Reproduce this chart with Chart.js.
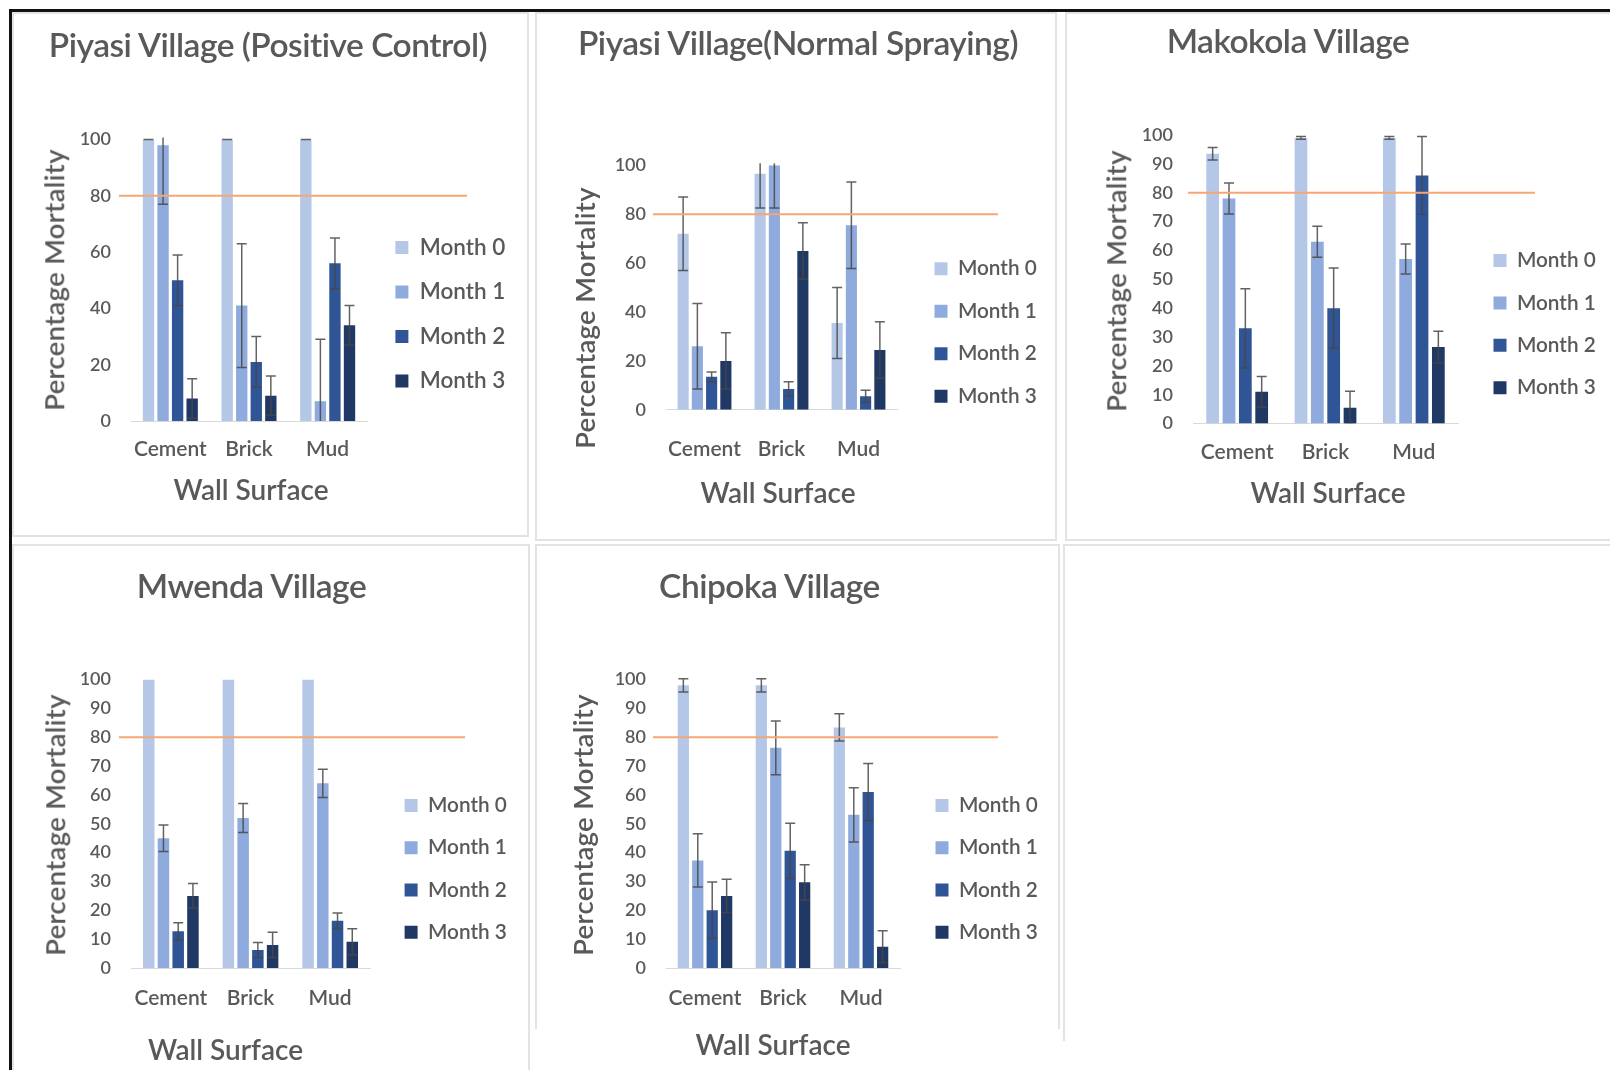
<!DOCTYPE html>
<html>
<head>
<meta charset="utf-8">
<title>Percentage mortality by wall surface</title>
<script src="https://cdn.jsdelivr.net/npm/chart.js@4.4.1/dist/chart.umd.min.js"></script>
<style>
  html, body { margin: 0; padding: 0; background: #fff; }
  body { width: 1610px; height: 1070px; position: relative; overflow: hidden;
         font-family: Lato, 'Open Sans', sans-serif; color: #595959; }
  .frame-top  { position: absolute; left: 9px; top: 9px; width: 1601px; height: 3px; background: #111; z-index: 5; }
  .frame-left { position: absolute; left: 9px; top: 9px; width: 3px; height: 1061px; background: #111; z-index: 5; }
  .panel { position: absolute; box-sizing: border-box; border: 2px solid #e3e3e3; }
  .panel.open-bottom { border-bottom: none; }
  canvas.chart { position: absolute; z-index: 2; }
  .lbl { position: absolute; white-space: nowrap; line-height: 1; z-index: 3; font-weight: 600;
         transform: translate(-50%, -50%); }
  .lbl.title { font-size: 33.5px; letter-spacing: -0.5px; }
  .lbl.xtitle { font-size: 28px; }
  .lbl.ytitle { font-size: 27.5px; letter-spacing: 0.3px; transform: translate(-50%, -50%) rotate(-90deg); }
</style>
</head>
<body>
<div class="frame-top"></div>
<div class="frame-left"></div>

<script>
// ---- data -------------------------------------------------------------
const wallSurfaces = ['Cement', 'Brick', 'Mud'];
const months = ['Month 0', 'Month 1', 'Month 2', 'Month 3'];
const monthColours = ['#b4c7e7', '#8faadc', '#2f5597', '#203864'];
const targetMortality = 80;
const xAxisTitle = 'Wall Surface';
const yAxisTitle = 'Percentage Mortality';

// mean % mortality: one row per month, one column per wall surface
const piyasiControlMortality = [[100, 100, 100], [98, 41, 7], [50, 21, 56], [8, 9, 34]];
const piyasiControlError     = [[0, 0, 0], [21, 22, 22], [9, 9, 9], [7, 7, 7]];

const piyasiSprayMortality = [[72, 96.5, 35.5], [26, 100, 75.5], [13.5, 8.5, 5.5], [20, 65, 24.5]];
const piyasiSprayError     = [[15, 14, 14.5], [17.5, 17.5, 17.7], [2, 3, 2.5], [11.5, 11.5, 11.5]];

const makokolaMortality = [[93.5, 99, 99], [78, 63, 57], [33, 40, 86], [11, 5.5, 26.5]];
const makokolaError     = [[2.2, 0.5, 0.5], [5.4, 5.4, 5.2], [13.7, 13.9, 13.5], [5.3, 5.7, 5.5]];

const mwendaMortality = [[100, 100, 100], [45, 52, 64], [12.7, 6.2, 16.4], [25, 8, 9.1]];
const mwendaError     = [[null, null, null], [4.6, 5, 4.9], [3, 2.6, 2.7], [4.3, 4.4, 4.5]];

const chipokaMortality = [[98, 98, 83.4], [37.3, 76.3, 53.1], [20, 40.6, 61], [25, 29.7, 7.4]];
const chipokaError     = [[2.3, 2.3, 4.7], [9.2, 9.3, 9.4], [9.8, 9.6, 9.9], [5.8, 6.1, 5.5]];

const yTickStepTwenty = 20;
const yTickStepTen = 10;

// ---- plugins ----------------------------------------------------------
// whiskers above/below every bar, clipped to the plot area
const errorBars = {
  id: 'errorBars',
  afterDatasetsDraw(chart, args, opts) {
    const { ctx, chartArea: a, scales: { y } } = chart;
    ctx.save();
    ctx.beginPath();
    ctx.rect(a.left - 20, a.top - 2, a.width + 40, a.height + 2);
    ctx.clip();
    ctx.strokeStyle = opts.color;
    ctx.lineWidth = opts.width;
    chart.data.datasets.forEach((ds, i) => {
      chart.getDatasetMeta(i).data.forEach((bar, j) => {
        const e = ds.errors[j];
        if (e == null) return;
        const v = ds.data[j];
        const top = y.getPixelForValue(v + e);
        const bot = y.getPixelForValue(v - e);
        const h = opts.cap / 2;
        ctx.beginPath();
        ctx.moveTo(bar.x, top); ctx.lineTo(bar.x, bot);
        ctx.moveTo(bar.x - h, top); ctx.lineTo(bar.x + h, top);
        ctx.moveTo(bar.x - h, bot); ctx.lineTo(bar.x + h, bot);
        ctx.stroke();
      });
    });
    ctx.restore();
  }
};

// horizontal target line across the plot
const targetLine = {
  id: 'targetLine',
  afterDatasetsDraw(chart, args, opts) {
    const { ctx, chartArea: a, scales: { y } } = chart;
    const py = y.getPixelForValue(opts.value);
    ctx.save();
    ctx.strokeStyle = opts.color;
    ctx.lineWidth = opts.width;
    ctx.beginPath();
    ctx.moveTo(a.left + opts.from, py);
    ctx.lineTo(a.right + opts.to, py);
    ctx.stroke();
    ctx.restore();
  }
};

// puts the legend column at a fixed spot beside the plot
const legendPlacement = {
  id: 'legendPlacement',
  afterLayout(chart, args, opts) {
    const lg = chart.legend;
    if (!lg || opts.left == null) return;
    lg.left = opts.left; lg.right = opts.left + 200;
    lg.top = opts.top; lg.bottom = opts.top + 260;
    lg.width = 200; lg.height = 260;
  }
};

// ---- panels -----------------------------------------------------------
const TEXT = '#595959';
const FONT = 'Lato, "Open Sans", sans-serif';
const TICK_SIZE = 18;
const CATEGORY_SIZE = 21;

const panels = [
  { title: 'Piyasi Village (Positive Control)', values: piyasiControlMortality, errors: piyasiControlError, step: yTickStepTwenty,
    frame: { x: 12, y: 12, w: 517, h: 525 }, canvas: { x: 12, y: 12, w: 517, h: 529 },
    area: { l: 131, r: 367, t: 139.5, b: 421 }, xPad: 15.5,
    legend: { x: 395.4, y: 247.5, gap: 44.5, size: 22.5 }, line: { from: -12, to: 100 },
    titlePos: [268, 45], yTitlePos: [54, 280], xTitlePos: [251, 489] },
  { title: 'Piyasi Village(Normal Spraying)', values: piyasiSprayMortality, errors: piyasiSprayError, step: yTickStepTwenty,
    frame: { x: 535, y: 12, w: 522, h: 529 }, canvas: { x: 535, y: 12, w: 522, h: 529 },
    area: { l: 666, r: 897, t: 165.3, b: 409.8 }, xPad: 26.5,
    legend: { x: 934.5, y: 268.8, gap: 42.5, size: 20.75 }, line: { from: -13, to: 101 },
    titlePos: [798, 43], yTitlePos: [585, 318], xTitlePos: [778, 492] },
  { title: 'Makokola Village', values: makokolaMortality, errors: makokolaError, step: yTickStepTen,
    frame: { x: 1065, y: 12, w: 560, h: 529 }, canvas: { x: 1065, y: 12, w: 545, h: 529 },
    area: { l: 1193, r: 1458, t: 135, b: 423.6 }, xPad: 16.5,
    legend: { x: 1493.5, y: 260.5, gap: 42.4, size: 20.75 }, line: { from: -5, to: 77 },
    titlePos: [1288, 41.3], yTitlePos: [1116, 280.6], xTitlePos: [1328, 492.4] },
  { title: 'Mwenda Village', values: mwendaMortality, errors: mwendaError, step: yTickStepTen,
    frame: { x: 12, y: 544, w: 518, h: 540 }, canvas: { x: 12, y: 544, w: 518, h: 526 },
    area: { l: 131, r: 370, t: 679.5, b: 968 }, xPad: 17.5,
    legend: { x: 404.6, y: 805.4, gap: 42.3, size: 20.75 }, line: { from: -12, to: 95 },
    titlePos: [251.5, 585.5], yTitlePos: [55, 824.5], xTitlePos: [225.5, 1049] },
  { title: 'Chipoka Village', values: chipokaMortality, errors: chipokaError, step: yTickStepTen,
    frame: { x: 535, y: 544, w: 525, h: 485, open: true }, canvas: { x: 535, y: 544, w: 525, h: 526 },
    area: { l: 666, r: 900, t: 679.5, b: 968 }, xPad: 17.5,
    legend: { x: 935.5, y: 805.4, gap: 42.3, size: 20.75 }, line: { from: -13, to: 98 },
    titlePos: [769.5, 585.5], yTitlePos: [583, 824.5], xTitlePos: [773, 1043.5] }
];

function addLabel(text, cls, pos) {
  const el = document.createElement('div');
  el.className = 'lbl ' + cls;
  el.textContent = text;
  el.style.left = pos[0] + 'px';
  el.style.top = pos[1] + 'px';
  document.body.appendChild(el);
}

function addFrame(f) {
  const el = document.createElement('div');
  el.className = 'panel' + (f.open ? ' open-bottom' : '');
  el.style.left = f.x + 'px'; el.style.top = f.y + 'px';
  el.style.width = f.w + 'px'; el.style.height = f.h + 'px';
  document.body.appendChild(el);
}

// empty sixth cell of the grid
addFrame({ x: 1063, y: 544, w: 560, h: 497, open: true });

panels.forEach(p => {
  addFrame(p.frame);
  const c = p.canvas, a = p.area;
  const cv = document.createElement('canvas');
  cv.className = 'chart';
  cv.width = c.w; cv.height = c.h;
  cv.style.left = c.x + 'px'; cv.style.top = c.y + 'px';
  document.body.appendChild(cv);

  const legendSize = p.legend.size;
  const legendPad = p.legend.gap - legendSize;

  new Chart(cv, {
    type: 'bar',
    data: {
      labels: wallSurfaces,
      datasets: months.map((m, i) => ({
        label: m,
        data: p.values[i],
        errors: p.errors[i],
        backgroundColor: monthColours[i],
        borderWidth: 0,
        barPercentage: 0.78,
        categoryPercentage: 0.74
      }))
    },
    options: {
      responsive: false,
      animation: false,
      devicePixelRatio: 1,
      layout: {
        autoPadding: false,
        padding: { left: 0, top: a.t - c.y, right: c.x + c.w - a.r - 1, bottom: 0 }
      },
      scales: {
        x: {
          grid: { display: false, drawTicks: false },
          border: { display: true, color: '#d9d9d9', width: 1 },
          ticks: { color: TEXT, font: { family: FONT, size: CATEGORY_SIZE, weight: '600' }, padding: p.xPad,
                   maxRotation: 0, minRotation: 0, autoSkip: false },
          afterFit: s => { s.height = c.y + c.h - a.b; }
        },
        y: {
          min: 0, max: 100,
          grid: { display: false, drawTicks: false },
          border: { display: false },
          ticks: { stepSize: p.step, color: TEXT, font: { family: FONT, size: TICK_SIZE, weight: '600' }, padding: 20 },
          afterFit: s => { s.width = a.l - c.x; }
        }
      },
      plugins: {
        title: { display: false },
        tooltip: { enabled: false },
        legend: {
          position: 'right', align: 'start', fullSize: false, maxWidth: 1,
          labels: { boxWidth: 13, boxHeight: 13, padding: legendPad, color: TEXT,
                    font: { family: FONT, size: legendSize, weight: '600' } }
        },
        legendPlacement: {
          left: p.legend.x - c.x - legendPad,
          top: p.legend.y - c.y - legendSize / 2 - legendPad
        },
        errorBars: { color: 'rgba(70,70,70,0.85)', width: 1.5, cap: 10 },
        targetLine: { value: targetMortality, color: '#f4a773', width: 2, from: p.line.from, to: p.line.to }
      }
    },
    plugins: [errorBars, targetLine, legendPlacement]
  });

  addLabel(p.title, 'title', p.titlePos);
  addLabel(yAxisTitle, 'ytitle', p.yTitlePos);
  addLabel(xAxisTitle, 'xtitle', p.xTitlePos);
});
</script>
</body>
</html>
